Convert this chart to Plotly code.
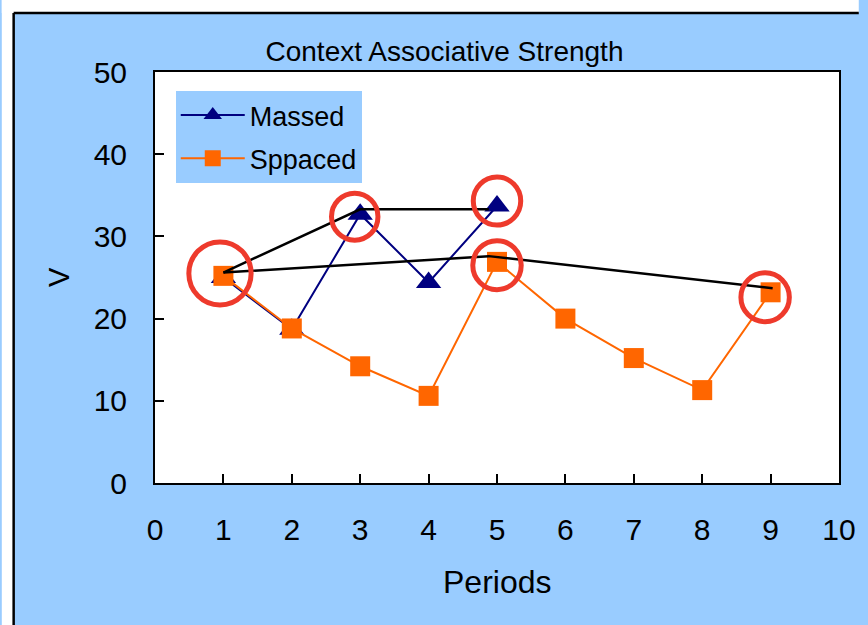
import plotly.graph_objects as go

# ---- data -------------------------------------------------------------
periods_massed = [1, 2, 3, 4, 5]
v_massed = [25.0, 18.7, 32.7, 24.4, 33.7]

periods_spaced = [1, 2, 3, 4, 5, 6, 7, 8, 9]
v_spaced = [25.2, 18.8, 14.2, 10.6, 26.9, 20.0, 15.2, 11.3, 23.2]

# connector lines linking the highlighted peaks
upper_link_x = [1, 3, 4.88]
upper_link_y = [25.6, 33.3, 33.3]
lower_link_x = [1, 4.88, 9.03]
lower_link_y = [25.6, 27.6, 23.7]

# highlight rings: (period, V, ring radius in px)
rings = [
    (0.95, 25.5, 31.5),
    (2.92, 32.4, 23.5),
    (5.00, 34.3, 24.0),
    (5.00, 26.5, 24.5),
    (8.92, 22.6, 24.5),
]

x_ticks = list(range(0, 11))
y_ticks = list(range(0, 60, 10))

# ---- layout geometry --------------------------------------------------
W, H = 868, 625
ML, MR, MT, MB = 155, 21, 72, 142
PW, PH = W - ML - MR, H - MT - MB
X_RANGE = (0, 10)
Y_RANGE = (0, 50)
SX = PW / (X_RANGE[1] - X_RANGE[0])
SY = PH / (Y_RANGE[1] - Y_RANGE[0])


def px_x(px):
    return (px - ML) / PW


def px_y(py):
    return (H - MB - py) / PH


FONT = "Liberation Sans, Arial, sans-serif"
BG = "#99CCFF"
NAVY = "#000080"
ORANGE = "#FF6600"
RED = "#EE3A2C"

fig = go.Figure()

fig.add_trace(go.Scatter(
    x=periods_massed, y=v_massed, name="Massed", mode="lines+markers",
    line=dict(color=NAVY, width=2),
    marker=dict(symbol="triangle-up", size=22, color=NAVY, line=dict(width=0)),
    legendgroup="m",
))
fig.add_trace(go.Scatter(
    x=periods_spaced, y=v_spaced, name="Sppaced", mode="lines+markers",
    line=dict(color=ORANGE, width=2),
    marker=dict(symbol="square", size=20, color=ORANGE, line=dict(width=0)),
    legendgroup="s",
))
for lx, ly in [(upper_link_x, upper_link_y), (lower_link_x, lower_link_y)]:
    fig.add_trace(go.Scatter(
        x=lx, y=ly, mode="lines", showlegend=False, hoverinfo="skip",
        line=dict(color="black", width=2.5),
    ))

shapes = []
for cx, cy, r in rings:
    shapes.append(dict(
        type="circle", xref="x", yref="y", layer="above",
        x0=cx - r / SX, x1=cx + r / SX, y0=cy - r / SY, y1=cy + r / SY,
        line=dict(color=RED, width=5), fillcolor="rgba(0,0,0,0)",
    ))

# white margin outside the chart frame (top strip and left strip)
shapes.append(dict(type="rect", xref="paper", yref="paper", layer="below",
                   x0=px_x(0), x1=px_x(W - 1), y0=px_y(13), y1=px_y(0),
                   fillcolor="white", line=dict(width=0)))
shapes.append(dict(type="rect", xref="paper", yref="paper", layer="below",
                   x0=px_x(0), x1=px_x(12), y0=px_y(H), y1=px_y(0),
                   fillcolor="white", line=dict(width=0)))
# chart frame border
shapes.append(dict(type="line", xref="paper", yref="paper",
                   x0=px_x(12), x1=px_x(W - 1), y0=px_y(13), y1=px_y(13),
                   line=dict(color="black", width=2.5)))
shapes.append(dict(type="line", xref="paper", yref="paper",
                   x0=px_x(12), x1=px_x(12), y0=px_y(13), y1=px_y(H),
                   line=dict(color="black", width=2.5)))

annotations = [
    dict(text="Periods", xref="paper", yref="paper", x=0.5, y=px_y(582),
         xanchor="center", yanchor="middle", showarrow=False,
         font=dict(family=FONT, size=32, color="black")),
    dict(text="V", xref="paper", yref="paper", x=px_x(58), y=px_y(277),
         xanchor="center", yanchor="middle", showarrow=False, textangle=-90,
         font=dict(family=FONT, size=29, color="black")),
]

axis_common = dict(
    showline=True, mirror=True, linecolor="black", linewidth=2,
    showgrid=False, zeroline=False, ticks="inside", tickcolor="black",
    tickwidth=1.5, ticklen=9,
    tickfont=dict(family=FONT, size=30, color="black"),
)

fig.update_layout(
    width=W, height=H,
    margin=dict(l=ML, r=MR, t=MT, b=MB, pad=0),
    paper_bgcolor=BG, plot_bgcolor="white",
    font=dict(family=FONT, color="black"),
    title=dict(text="Context Associative Strength", x=444.5 / W, y=1 - 51 / H,
               xref="container", yref="container",
               xanchor="center", yanchor="middle",
               font=dict(family=FONT, size=28, color="black")),
    xaxis=dict(range=list(X_RANGE), tickvals=x_ticks, ticklabelstandoff=19,
               **axis_common),
    yaxis=dict(range=list(Y_RANGE), tickvals=y_ticks, ticklabelstandoff=20,
               **axis_common),
    legend=dict(x=px_x(176), y=px_y(91), xanchor="left", yanchor="top",
                bgcolor=BG, borderwidth=0, traceorder="grouped",
                tracegroupgap=5, itemwidth=64,
                font=dict(family=FONT, size=27, color="black")),
    shapes=shapes,
    annotations=annotations,
    showlegend=True,
)

fig.write_html("out.html")
